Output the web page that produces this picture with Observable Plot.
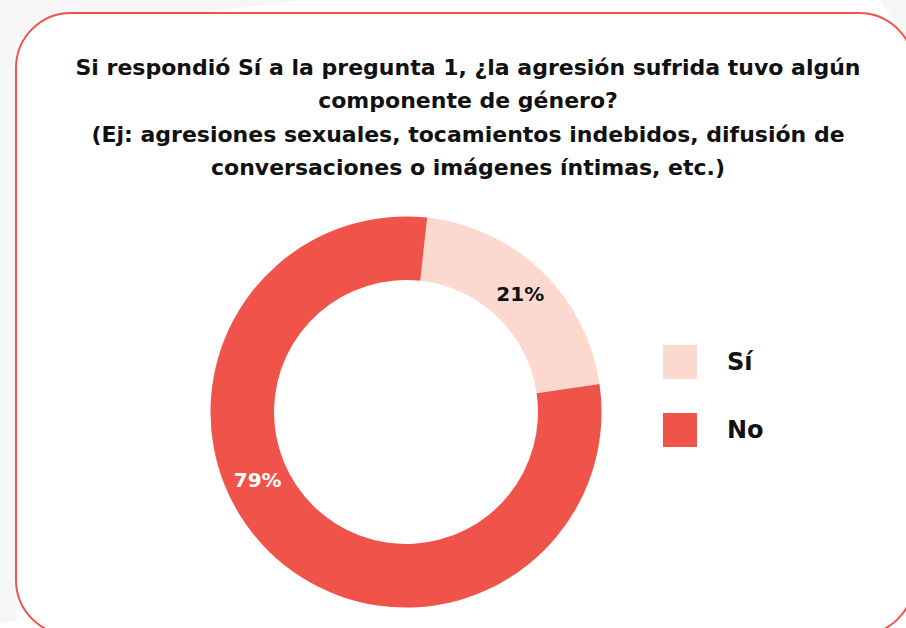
<!DOCTYPE html>
<html>
<head>
<meta charset="utf-8">
<script src="https://cdn.jsdelivr.net/npm/d3@7"></script>
<script src="https://cdn.jsdelivr.net/npm/@observablehq/plot@0.6"></script>
<style>
  html, body { margin: 0; padding: 0; width: 906px; height: 628px; overflow: hidden; background: #ffffff; font-family: "DejaVu Sans", sans-serif; }
  #bg { position: absolute; left: 0; top: 0; }
  #frame { position: absolute; left: 15px; top: 12px; width: 900px; height: 624px; border: 2px solid #f0534a; border-radius: 56px; background: #fff; box-sizing: border-box; }
  #title { position: absolute; left: 18px; width: 900px; top: 51px; text-align: center; font-weight: 700; font-size: 22px; line-height: 33.3px; color: #111; white-space: nowrap; }
  #chart { position: absolute; left: 196px; top: 202px; }
  #legend { position: absolute; left: 663px; top: 345px; }
  .item { display: flex; align-items: center; height: 34px; margin-bottom: 34px; }
  .sw { width: 34px; height: 34px; margin-right: 30px; }
  .lab { font-weight: 700; font-size: 24px; color: #111; }
</style>
</head>
<body>
<svg id="bg" width="906" height="628">
  <polygon points="0,0 300,0 0,40" fill="#f6f6f6"/>
  <polygon points="0,40 16,38 16,620 0,624" fill="#f6f6f6"/>
  <polygon points="880,0 906,0 906,40" fill="#f6f6f6"/>
</svg>
<div id="frame"></div>
<div id="title">Si respondió Sí a la pregunta 1, ¿la agresión sufrida tuvo algún<br>componente de género?<br>(Ej: agresiones sexuales, tocamientos indebidos, difusión de<br>conversaciones o imágenes íntimas, etc.)</div>
<div id="chart"></div>
<div id="legend"></div>
<script>
// ---- data ----
const categories = ["Sí", "No"];
const values = [21, 79];
const labels = ["21%", "79%"];

// ---- styles / layout config ----
const colors = ["#fcd9cf", "#f0534a"];
const labelColors = ["#111111", "#ffffff"];
const innerR = 0.675, outerR = 1;
const startDeg = 6.2;
const labelFrac = [0.5, 0.575];
const extent = 1.074;

const pie = d3.pie().sort(null).value(d => d.value).startAngle(startDeg * Math.PI / 180).endAngle((startDeg + 360) * Math.PI / 180);
const rows = categories.map((c, i) => ({category: c, value: values[i], label: labels[i], color: colors[i], labelColor: labelColors[i]}));
const arcs = pie(rows);

const labelData = arcs.map((a, i) => {
  const ang = a.startAngle + labelFrac[i] * (a.endAngle - a.startAngle);
  const r = (innerR + outerR) / 2;
  return {x: r * Math.sin(ang), y: r * Math.cos(ang), label: a.data.label, color: a.data.labelColor};
});

const donutMark = (index, scales) => {
  const cx = scales.x(0), cy = scales.y(0);
  const rPx = Math.abs(scales.x(outerR) - cx);
  const riPx = Math.abs(scales.x(innerR) - cx);
  const arc = d3.arc().innerRadius(riPx).outerRadius(rPx);
  const g = d3.create("svg:g").attr("transform", `translate(${cx},${cy})`);
  g.selectAll("path").data(arcs).join("path")
    .attr("d", arc)
    .attr("fill", d => d.data.color);
  return g.node();
};

const plot = Plot.plot({
  width: 420,
  height: 420,
  margin: 0,
  x: {domain: [-extent, extent], axis: null},
  y: {domain: [-extent, extent], axis: null},
  marks: [
    donutMark,
    Plot.text(labelData, {x: "x", y: "y", text: "label", fill: "color", fontSize: 20, fontWeight: 700, fontFamily: "'DejaVu Sans', sans-serif"})
  ]
});
document.getElementById("chart").appendChild(plot);

const legend = d3.select("#legend");
rows.forEach(r => {
  const it = legend.append("div").attr("class", "item");
  it.append("div").attr("class", "sw").style("background", r.color);
  it.append("div").attr("class", "lab").text(r.category);
});
</script>
</body>
</html>
